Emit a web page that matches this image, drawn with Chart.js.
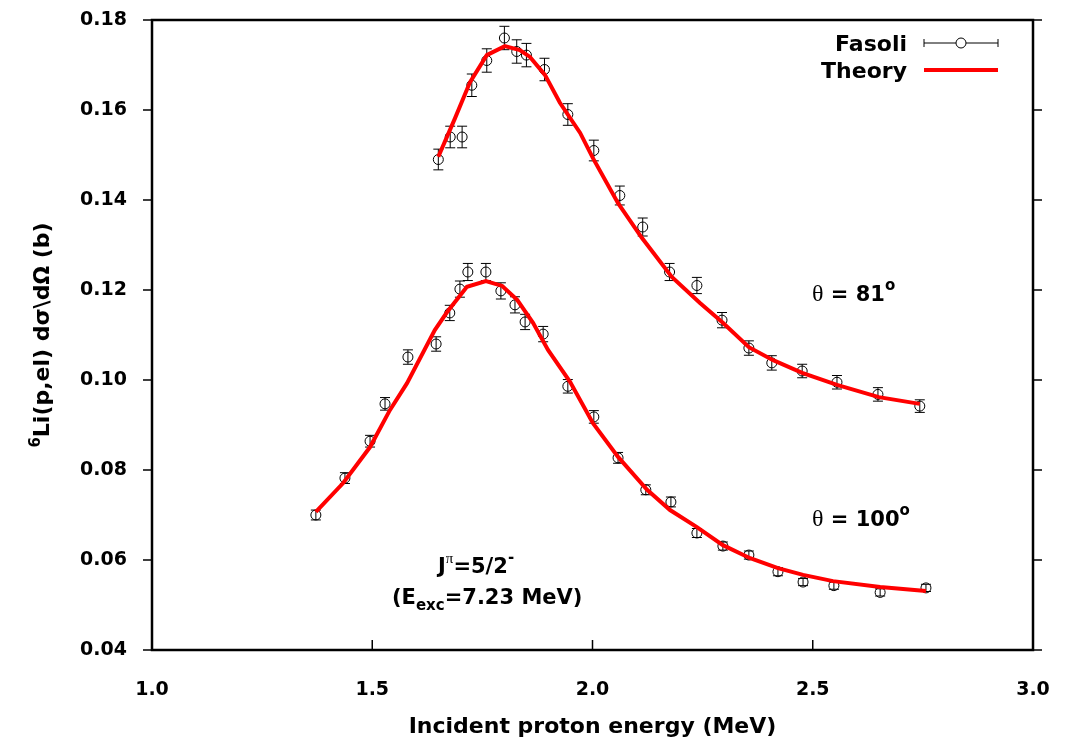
<!DOCTYPE html>
<html>
<head>
<meta charset="utf-8">
<script src="https://cdn.jsdelivr.net/npm/chart.js@4.4.0/dist/chart.umd.min.js"></script>
<style>
  body { margin: 0; background: #fff; }
</style>
</head>
<body>
<canvas id="c" width="1079" height="741"></canvas>
<script>
// measured data, theta = 81 deg
const energy81 = [1.650, 1.677, 1.704, 1.726, 1.760, 1.800, 1.828, 1.850, 1.891, 1.944, 2.003,
                  2.062, 2.114, 2.175, 2.237, 2.294, 2.355, 2.407, 2.476, 2.555, 2.648, 2.743];
const sigma81 = [0.1490, 0.1540, 0.1540, 0.1655, 0.1710, 0.1760, 0.1730, 0.1722, 0.1690, 0.1590, 0.1510,
                 0.1410, 0.1340, 0.1240, 0.1210, 0.1133, 0.1071, 0.1038, 0.1020, 0.0995, 0.0968, 0.0942];
const err81 = [0.0023, 0.0024, 0.0024, 0.0025, 0.0026, 0.0026, 0.0026, 0.0026, 0.0025, 0.0024, 0.0023,
               0.0021, 0.0020, 0.0019, 0.0018, 0.0017, 0.0016, 0.0016, 0.0015, 0.0015, 0.0015, 0.0014];

// measured data, theta = 100 deg
const energy100 = [1.372, 1.438, 1.495, 1.529, 1.581, 1.645, 1.676, 1.699, 1.717, 1.758, 1.792, 1.824, 1.847, 1.888,
                   1.944, 2.003, 2.058, 2.121, 2.178, 2.237, 2.296, 2.355, 2.421, 2.478, 2.548, 2.653, 2.757];
const sigma100 = [0.0700, 0.0782, 0.0864, 0.0947, 0.1051, 0.1080, 0.1149, 0.1202, 0.1240, 0.1240, 0.1198, 0.1167, 0.1129, 0.1102,
                  0.0986, 0.0918, 0.0827, 0.0756, 0.0729, 0.0660, 0.0631, 0.0611, 0.0574, 0.0551, 0.0543, 0.0528, 0.0538];
const err100 = [0.0011, 0.0012, 0.0013, 0.0014, 0.0016, 0.0016, 0.0017, 0.0018, 0.0019, 0.0019, 0.0018, 0.0018, 0.0017, 0.0017,
                0.0015, 0.0014, 0.0012, 0.0011, 0.0011, 0.0010, 0.0009, 0.0009, 0.0009, 0.0008, 0.0008, 0.0008, 0.0008];

// theory curves
const theoryE81 = [1.650, 1.688, 1.722, 1.760, 1.801, 1.835, 1.858, 1.892, 1.926, 1.972, 2.001,
                   2.058, 2.112, 2.180, 2.244, 2.296, 2.355, 2.410, 2.476, 2.555, 2.650, 2.743];
const theory81 = [0.1496, 0.1582, 0.1662, 0.1722, 0.1742, 0.1733, 0.1718, 0.1678, 0.1616, 0.1549, 0.1493,
                  0.1393, 0.1316, 0.1229, 0.1171, 0.1127, 0.1073, 0.1044, 0.1016, 0.0989, 0.0962, 0.0947];
const theoryE100 = [1.372, 1.434, 1.495, 1.540, 1.579, 1.642, 1.670, 1.715, 1.758, 1.795, 1.829, 1.865, 1.899,
                    1.949, 2.001, 2.058, 2.124, 2.176, 2.237, 2.296, 2.358, 2.421, 2.478, 2.546, 2.653, 2.757];
const theory100 = [0.0707, 0.0771, 0.0851, 0.0933, 0.0993, 0.1111, 0.1151, 0.1207, 0.1220, 0.1209, 0.1178, 0.1127, 0.1067,
                   0.0996, 0.0904, 0.0829, 0.0756, 0.0711, 0.0673, 0.0633, 0.0604, 0.0582, 0.0567, 0.0553, 0.0540, 0.0531];

const xTicks = [1.0, 1.5, 2.0, 2.5, 3.0];
const yTicks = [0.04, 0.06, 0.08, 0.10, 0.12, 0.14, 0.16, 0.18];

const SANS = '"DejaVu Sans", "Liberation Sans", sans-serif';
const SERIF = '"Liberation Serif", "DejaVu Serif", serif';

function pts(xs, ys) {
  return xs.map((x, i) => ({ x: x, y: ys[i] }));
}

// draw a line of text made of runs with their own font / vertical shift
function drawRuns(ctx, runs, x, y, align) {
  let total = 0;
  runs.forEach(r => { ctx.font = r.font; r.w = ctx.measureText(r.t).width; total += r.w; });
  let cx = align === 'right' ? x - total : (align === 'center' ? x - total / 2 : x);
  ctx.textAlign = 'left';
  ctx.textBaseline = 'alphabetic';
  runs.forEach(r => {
    ctx.font = r.font;
    ctx.fillText(r.t, cx, y + (r.dy || 0));
    cx += r.w;
  });
}

const errorBars = {
  id: 'errorBars',
  beforeDatasetsDraw(chart) {
    const ctx = chart.ctx;
    const xs = chart.scales.x, ys = chart.scales.y;
    ctx.save();
    ctx.strokeStyle = '#000';
    ctx.lineWidth = 1;
    chart.data.datasets.forEach(ds => {
      if (!ds.errs) return;
      ds.data.forEach((p, i) => {
        const px = xs.getPixelForValue(p.x);
        const y1 = ys.getPixelForValue(p.y - ds.errs[i]);
        const y2 = ys.getPixelForValue(p.y + ds.errs[i]);
        ctx.beginPath();
        ctx.moveTo(px, y1); ctx.lineTo(px, y2);
        ctx.moveTo(px - 5, y1); ctx.lineTo(px + 5, y1);
        ctx.moveTo(px - 5, y2); ctx.lineTo(px + 5, y2);
        ctx.stroke();
      });
    });
    ctx.restore();
  }
};

const frame = {
  id: 'frame',
  afterDraw(chart) {
    const ctx = chart.ctx;
    const a = chart.chartArea;
    const xs = chart.scales.x, ys = chart.scales.y;
    ctx.save();
    ctx.strokeStyle = '#000';
    ctx.lineWidth = 2.5;
    ctx.strokeRect(a.left, a.top, a.right - a.left, a.bottom - a.top);

    ctx.lineWidth = 1.5;
    ctx.beginPath();
    yTicks.forEach(v => {
      const py = ys.getPixelForValue(v);
      ctx.moveTo(a.left - 9, py); ctx.lineTo(a.left, py);
      ctx.moveTo(a.right, py); ctx.lineTo(a.right + 9, py);
    });
    xTicks.forEach(v => {
      const px = xs.getPixelForValue(v);
      ctx.moveTo(px, a.bottom); ctx.lineTo(px, a.bottom - 10);
    });
    ctx.stroke();

    ctx.fillStyle = '#000';
    const big = 'bold 22px ' + SANS;
    const small = 'bold 15px ' + SANS;

    // axis titles
    drawRuns(ctx, [{ t: 'Incident proton energy (MeV)', font: big }], (a.left + a.right) / 2, 733, 'center');
    ctx.save();
    ctx.translate(49, (a.top + a.bottom) / 2);
    ctx.rotate(-Math.PI / 2);
    drawRuns(ctx, [
      { t: '6', font: small, dy: -9 },
      { t: 'Li(p,el) d\u03c3\\d\u03a9 (b)', font: big }
    ], 0, 0, 'center');
    ctx.restore();

    // legend
    drawRuns(ctx, [{ t: 'Fasoli', font: big }], 907, 51, 'right');
    drawRuns(ctx, [{ t: 'Theory', font: big }], 907, 78, 'right');
    ctx.lineWidth = 1;
    ctx.beginPath();
    ctx.moveTo(924, 43); ctx.lineTo(956, 43);
    ctx.moveTo(966, 43); ctx.lineTo(998, 43);
    ctx.moveTo(924, 39); ctx.lineTo(924, 47);
    ctx.moveTo(998, 39); ctx.lineTo(998, 47);
    ctx.stroke();
    ctx.beginPath();
    ctx.arc(961, 43, 5, 0, Math.PI * 2);
    ctx.stroke();
    ctx.strokeStyle = '#ff0000';
    ctx.lineWidth = 4;
    ctx.beginPath();
    ctx.moveTo(924, 70); ctx.lineTo(998, 70);
    ctx.stroke();

    // annotations
    const mid = 'bold 21px ' + SANS;
    const sup = 'bold 15px ' + SANS;
    drawRuns(ctx, [
      { t: '\u03b8', font: '24px ' + SERIF },
      { t: ' = 81', font: mid },
      { t: 'o', font: sup, dy: -11 }
    ], 812, 301);
    drawRuns(ctx, [
      { t: '\u03b8', font: '24px ' + SERIF },
      { t: ' = 100', font: mid },
      { t: 'o', font: sup, dy: -11 }
    ], 812, 526);
    drawRuns(ctx, [
      { t: 'J', font: mid },
      { t: '\u03c0', font: '15px ' + SERIF, dy: -10 },
      { t: '=5/2', font: mid },
      { t: '-', font: sup, dy: -11 }
    ], 438, 573);
    drawRuns(ctx, [
      { t: '(E', font: mid },
      { t: 'exc', font: sup, dy: 6 },
      { t: '=7.23 MeV)', font: mid }
    ], 392, 604);
    ctx.restore();
  }
};

const tickFont = { family: SANS, size: 19, weight: 'bold' };

new Chart(document.getElementById('c'), {
  type: 'scatter',
  data: {
    datasets: [
      { label: 'Fasoli 81', data: pts(energy81, sigma81), errs: err81, showLine: false,
        pointStyle: 'circle', pointRadius: 5, borderColor: '#000', borderWidth: 1,
        backgroundColor: 'rgba(0,0,0,0)', order: 1 },
      { label: 'Fasoli 100', data: pts(energy100, sigma100), errs: err100, showLine: false,
        pointStyle: 'circle', pointRadius: 5, borderColor: '#000', borderWidth: 1,
        backgroundColor: 'rgba(0,0,0,0)', order: 1 },
      { label: 'Theory 81', data: pts(theoryE81, theory81), showLine: true, borderColor: '#ff0000',
        borderWidth: 4, pointRadius: 0, tension: 0, order: 0 },
      { label: 'Theory 100', data: pts(theoryE100, theory100), showLine: true, borderColor: '#ff0000',
        borderWidth: 4, pointRadius: 0, tension: 0, order: 0 }
    ]
  },
  options: {
    responsive: false,
    animation: false,
    layout: { padding: { top: 20, right: 46, left: 0, bottom: 0 } },
    plugins: { legend: { display: false }, tooltip: { enabled: false } },
    scales: {
      x: {
        type: 'linear', min: 1, max: 3,
        afterBuildTicks: s => { s.ticks = xTicks.map(v => ({ value: v })); },
        ticks: { callback: v => v.toFixed(1), font: tickFont, color: '#000', padding: 21, maxRotation: 0 },
        grid: { display: false }, border: { display: false },
        afterFit: s => { s.height = 91; s.paddingLeft = 0; s.paddingRight = 0; }
      },
      y: {
        type: 'linear', min: 0.04, max: 0.18,
        afterBuildTicks: s => { s.ticks = yTicks.map(v => ({ value: v })); },
        ticks: { callback: v => v.toFixed(2), font: tickFont, color: '#000', padding: 17 },
        grid: { display: false }, border: { display: false },
        afterFit: s => { s.width = 152; s.paddingTop = 0; s.paddingBottom = 0; }
      }
    }
  },
  plugins: [errorBars, frame]
});
</script>
</body>
</html>
